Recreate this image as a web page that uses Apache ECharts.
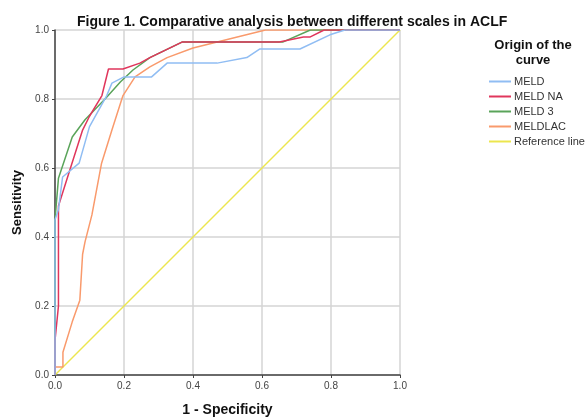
<!DOCTYPE html>
<html>
<head>
<meta charset="utf-8">
<script src="https://cdn.jsdelivr.net/npm/echarts@6/dist/echarts.min.js"></script>
<style>
html, body { margin: 0; padding: 0; background: #fff; }
#chart { width: 587px; height: 418px; }
</style>
</head>
<body>
<div id="chart"></div>
<script>
// ROC curves: [1 - specificity, sensitivity]
const seriesNames = ['MELD', 'MELD NA', 'MELD 3', 'MELDLAC', 'Reference line'];
const tickLabels = ['0.0', '0.2', '0.4', '0.6', '0.8', '1.0'];

const meld = [[0, 0], [0, 0.45], [0.01, 0.48], [0.022, 0.574], [0.07, 0.614], [0.1, 0.72], [0.15, 0.81],
  [0.165, 0.846], [0.2, 0.864], [0.28, 0.864], [0.325, 0.904], [0.47, 0.904], [0.556, 0.92],
  [0.594, 0.945], [0.71, 0.945], [0.797, 0.986], [0.84, 1], [1, 1]];
const meldNa = [[0, 0], [0, 0.1], [0.01, 0.2], [0.01, 0.4], [0.01, 0.49], [0.043, 0.594], [0.08, 0.71],
  [0.1, 0.75], [0.136, 0.81], [0.155, 0.887], [0.197, 0.887], [0.246, 0.904], [0.275, 0.92],
  [0.368, 0.965], [0.65, 0.965], [0.72, 0.98], [0.74, 0.98], [0.78, 1], [1, 1]];
const meld3 = [[0, 0], [0, 0.45], [0.01, 0.57], [0.05, 0.69], [0.087, 0.74], [0.145, 0.8], [0.19, 0.85],
  [0.226, 0.884], [0.275, 0.92], [0.368, 0.965], [0.66, 0.965], [0.74, 1], [1, 1]];
const meldLac = [[0, 0], [0, 0.023], [0.023, 0.023], [0.023, 0.066], [0.05, 0.154], [0.072, 0.217],
  [0.08, 0.35], [0.087, 0.386], [0.107, 0.464], [0.135, 0.614], [0.165, 0.71], [0.197, 0.81],
  [0.232, 0.864], [0.275, 0.893], [0.325, 0.92], [0.4, 0.948], [0.61, 1], [1, 1]];
const reference = [[0, 0], [1, 1]];

const colors = ['#90bdf3', '#e0365c', '#5aa45a', '#f99a6c', '#ece64e'];
const curves = [meld, meldNa, meld3, meldLac, reference];

const chart = echarts.init(document.getElementById('chart'));
chart.setOption({
  animation: false,
  color: colors,
  title: [{
    text: 'Figure 1. Comparative analysis between different scales in ACLF',
    left: 72, top: 10,
    textStyle: { fontFamily: 'Liberation Sans', fontSize: 14, fontWeight: 'bold', color: '#111' }
  }, {
    text: 'Origin of the\ncurve',
    left: 528, top: 33, textAlign: 'center',
    textStyle: { fontFamily: 'Liberation Sans', fontSize: 13, fontWeight: 'bold', color: '#111', lineHeight: 15 }
  }],
  legend: {
    orient: 'vertical',
    left: 484, top: 71,
    itemWidth: 22, itemHeight: 2, itemGap: 4,
    icon: 'rect',
    data: seriesNames,
    textStyle: { fontFamily: 'Liberation Sans', fontSize: 11, color: '#333', padding: [0, 0, 0, -2] }
  },
  grid: { left: 55, right: 187, top: 30, bottom: 43, outerBoundsMode: 'none', containLabel: false },
  xAxis: {
    type: 'value', min: 0, max: 1, interval: 0.2,
    name: '1 - Specificity', nameLocation: 'middle', nameGap: 28,
    nameTextStyle: { fontFamily: 'Liberation Sans', fontSize: 14, fontWeight: 'bold', color: '#111' },
    axisLine: { show: true, lineStyle: { color: '#444', width: 1.5 } },
    axisTick: { show: true, length: 3, lineStyle: { color: '#444' } },
    axisLabel: { fontFamily: 'Liberation Sans', fontSize: 10, color: '#444', margin: 6,
      formatter: v => tickLabels[Math.round(v * 5)] },
    splitLine: { show: true, lineStyle: { color: '#d4d4d4', width: 1.5 } }
  },
  yAxis: {
    type: 'value', min: 0, max: 1, interval: 0.2,
    name: 'Sensitivity', nameLocation: 'middle', nameGap: 30,
    nameTextStyle: { fontFamily: 'Liberation Sans', fontSize: 13, fontWeight: 'bold', color: '#111' },
    axisLine: { show: true, lineStyle: { color: '#444', width: 1.5 } },
    axisTick: { show: true, length: 3, lineStyle: { color: '#444' } },
    axisLabel: { fontFamily: 'Liberation Sans', fontSize: 10, color: '#444', margin: 6,
      formatter: v => tickLabels[Math.round(v * 5)] },
    splitLine: { show: true, lineStyle: { color: '#d4d4d4', width: 1.5 } }
  },
  series: curves.map((d, i) => ({
    name: seriesNames[i],
    type: 'line',
    data: d,
    symbol: 'none',
    z: 10 - i,
    lineStyle: { width: 1.5, color: colors[i] }
  }))
});
</script>
</body>
</html>
